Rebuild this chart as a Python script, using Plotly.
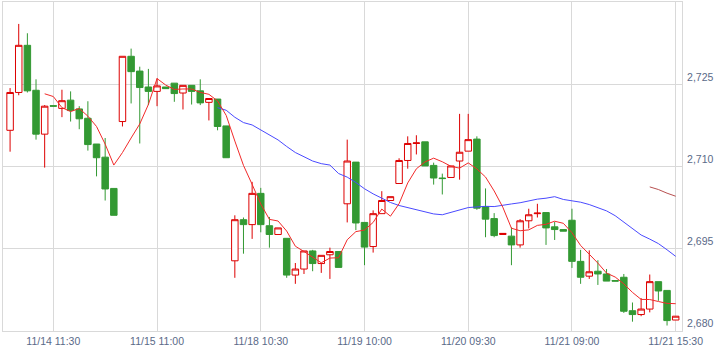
import plotly.graph_objects as go

# ---- data ----
tick_pos = [5, 17, 29, 41, 53, 65, 77]
tick_labels = ["11/14 11:30", "11/15 11:00", "11/18 10:30", "11/19 10:00",
               "11/20 09:30", "11/21 09:00", "11/21 15:30"]
y_ticks = [2680, 2695, 2710, 2725]

opens = [2716.6, 2723.5, 2732.1, 2723.9, 2715.9, 2721.1, 2720.6, 2722.1, 2720.5, 2718.8,
         2714.1, 2711.7, 2706.0, 2718.2, 2730.1, 2727.4, 2724.5, 2723.7, 2724.5, 2725.2,
         2723.4, 2724.8, 2723.8, 2721.7, 2722.3, 2717.4, 2692.8, 2700.3, 2699.4, 2705.1,
         2699.2, 2697.6, 2696.9, 2690.2, 2691.3, 2694.6, 2692.3, 2693.9, 2694.5, 2703.2,
         2710.8, 2699.8, 2695.4, 2701.4, 2703.8, 2706.9, 2711.1, 2714.2, 2714.5, 2710.2,
         2707.9, 2708.0, 2711.0, 2712.8, 2715.0, 2702.7, 2700.5, 2697.6, 2697.3, 2695.7,
         2700.1, 2701.4, 2701.6, 2699.0, 2698.5, 2700.2, 2692.7, 2690.0, 2690.9, 2690.4,
         2689.2, 2689.8, 2683.7, 2683.0, 2684.0, 2689.0, 2687.4, 2682.0]
highs = [2724.3, 2736.0, 2734.3, 2725.9, 2721.2, 2721.1, 2724.0, 2723.7, 2721.0, 2721.9,
         2714.1, 2715.2, 2706.0, 2730.1, 2731.5, 2728.2, 2727.8, 2726.1, 2724.5, 2725.2,
         2724.8, 2724.8, 2725.9, 2722.4, 2722.3, 2717.4, 2701.1, 2700.7, 2707.2, 2706.1,
         2700.8, 2698.8, 2696.9, 2692.4, 2694.6, 2694.8, 2693.8, 2695.2, 2694.5, 2714.9,
         2710.8, 2699.8, 2702.0, 2705.5, 2704.5, 2711.5, 2715.5, 2715.7, 2714.5, 2710.7,
         2708.7, 2710.1, 2719.6, 2719.6, 2715.5, 2706.0, 2701.5, 2697.8, 2698.9, 2700.4,
         2702.3, 2703.2, 2701.6, 2699.9, 2698.5, 2702.3, 2694.8, 2694.7, 2692.9, 2691.3,
         2689.2, 2690.4, 2685.2, 2686.0, 2690.3, 2689.0, 2687.4, 2682.7]
lows = [2712.7, 2723.0, 2723.5, 2714.9, 2709.8, 2721.0, 2719.0, 2718.2, 2716.8, 2712.9,
        2708.2, 2703.8, 2701.1, 2717.3, 2721.5, 2714.2, 2721.2, 2721.0, 2724.2, 2721.8,
        2720.4, 2721.3, 2721.2, 2718.4, 2716.6, 2711.6, 2689.7, 2694.1, 2696.8, 2698.0,
        2695.2, 2697.6, 2689.7, 2688.6, 2690.4, 2690.9, 2690.6, 2689.5, 2691.6, 2699.8,
        2698.4, 2692.0, 2694.3, 2701.4, 2703.8, 2706.9, 2709.6, 2712.2, 2710.1, 2706.7,
        2704.9, 2708.0, 2707.6, 2712.8, 2702.1, 2697.1, 2697.1, 2697.6, 2692.0, 2695.2,
        2698.7, 2700.7, 2695.7, 2696.6, 2698.2, 2691.5, 2688.6, 2689.5, 2688.4, 2689.1,
        2689.1, 2683.3, 2681.7, 2682.7, 2683.4, 2685.5, 2681.0, 2682.0]
closes = [2723.5, 2732.1, 2723.8, 2715.9, 2721.0, 2721.0, 2722.0, 2720.2, 2718.7, 2714.0,
          2711.6, 2705.9, 2701.1, 2730.1, 2727.3, 2724.4, 2723.7, 2724.7, 2724.2, 2723.3,
          2724.8, 2723.7, 2721.6, 2722.4, 2717.3, 2711.6, 2700.3, 2699.4, 2705.1, 2699.4,
          2697.6, 2698.8, 2690.2, 2691.3, 2694.6, 2692.3, 2693.8, 2694.5, 2691.6, 2711.0,
          2699.7, 2695.3, 2701.4, 2703.8, 2704.5, 2711.1, 2714.2, 2714.3, 2710.1, 2707.9,
          2707.8, 2710.1, 2712.6, 2714.9, 2702.4, 2700.4, 2697.4, 2697.8, 2695.7, 2700.1,
          2701.2, 2701.5, 2698.8, 2698.5, 2698.2, 2692.7, 2689.8, 2690.8, 2690.4, 2689.1,
          2689.1, 2683.6, 2683.0, 2684.0, 2689.0, 2687.3, 2681.9, 2682.7]

# short line (starts at bar 4)
line_a = [2723.26, 2722.76, 2720.74, 2720.02, 2720.58, 2719.18, 2717.30, 2714.08, 2710.26, 2712.54,
          2715.20, 2717.76, 2721.32, 2726.04, 2724.86, 2724.06, 2724.14, 2724.14, 2723.52, 2723.16,
          2721.96, 2719.32, 2714.64, 2710.20, 2706.74, 2703.16, 2700.36, 2700.06, 2698.22, 2695.46,
          2694.50, 2693.44, 2692.44, 2693.30, 2693.36, 2696.64, 2698.12, 2698.42, 2699.80, 2702.24,
          2700.94, 2703.22, 2707.00, 2709.58, 2710.84, 2711.52, 2710.86, 2710.04, 2709.70, 2710.66,
          2709.56, 2708.08, 2705.54, 2702.58, 2698.74, 2698.28, 2698.44, 2699.26, 2699.46, 2700.02,
          2699.64, 2697.94, 2695.60, 2694.00, 2692.38, 2690.56, 2689.84, 2688.60, 2687.04, 2685.76,
          2685.74, 2685.38, 2685.04, 2684.98]
# medium line (starts at bar 24)
line_b = [2720.73, 2720.26, 2718.98, 2718.01, 2717.58, 2716.71, 2715.78, 2714.85, 2713.65, 2712.55,
          2711.78, 2711.00, 2710.52, 2710.26, 2708.72, 2708.06, 2707.08, 2705.94, 2705.01, 2704.19,
          2703.44, 2702.89, 2702.51, 2702.22, 2701.73, 2701.35, 2701.20, 2701.59, 2702.12, 2702.51,
          2702.63, 2702.74, 2702.69, 2702.99, 2703.17, 2703.39, 2703.74, 2704.05, 2704.22, 2704.50,
          2703.99, 2703.71, 2703.49, 2703.06, 2702.53, 2701.91, 2701.03, 2699.81, 2698.56, 2697.51,
          2696.76, 2695.94, 2694.81, 2693.61]
# long line (starts at bar 74)
line_c = [2706.28, 2705.80, 2705.13, 2704.58]

bars = list(range(len(closes)))
start_a = len(bars) - len(line_a)
start_b = len(bars) - len(line_b)
start_c = len(bars) - len(line_c)

fig = go.Figure()
fig.add_trace(go.Candlestick(
    x=bars, open=opens, high=highs, low=lows, close=closes,
    increasing=dict(line=dict(color="#dd0000", width=1), fillcolor="#ffffff"),
    decreasing=dict(line=dict(color="#339933", width=1), fillcolor="#339933"),
    whiskerwidth=0, showlegend=False,
))
fig.add_trace(go.Scatter(x=bars[start_b:], y=line_b, mode="lines",
                         line=dict(color="#4a4aff", width=1), showlegend=False))
fig.add_trace(go.Scatter(x=bars[start_a:], y=line_a, mode="lines",
                         line=dict(color="#f22a2a", width=1), showlegend=False))
fig.add_trace(go.Scatter(x=bars[start_c:], y=line_c, mode="lines",
                         line=dict(color="#b85050", width=1), showlegend=False))

grid = "#d9d9d9"
fig.update_layout(
    width=724, height=358,
    margin=dict(l=3, r=42, t=2, b=27),
    paper_bgcolor="white", plot_bgcolor="white",
    showlegend=False,
    boxgap=0.25, boxgroupgap=0,
    font=dict(family="Liberation Sans, Arial, sans-serif", size=10.5, color="#5a6a88"),
)
fig.update_xaxes(
    range=[-0.82, 77.73], tickmode="array", tickvals=tick_pos, ticktext=tick_labels,
    showgrid=True, gridcolor=grid, gridwidth=1,
    showline=True, linecolor=grid, linewidth=1, mirror=True,
    ticks="", zeroline=False, rangeslider=dict(visible=False),
)
fig.update_yaxes(
    range=[2680, 2740], side="right", tickmode="array", tickvals=y_ticks,
    tickformat=",", showgrid=True, gridcolor=grid, gridwidth=1,
    showline=True, linecolor=grid, linewidth=1, mirror=True,
    ticks="", zeroline=False, ticklabelposition="outside top",
    ticklabelstandoff=2,
)

fig.write_html("out.html",
               config={"displayModeBar": False},
               post_script="document.body.style.margin='0px';document.body.style.padding='0px';")
